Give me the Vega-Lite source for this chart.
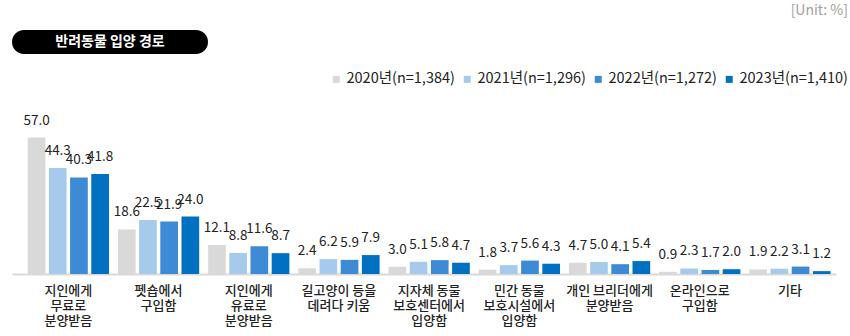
{
  "$schema": "https://vega.github.io/schema/vega-lite/v6.json",
  "padding": {"left": 12, "top": 4, "right": 0, "bottom": 0},
  "background": "white",
  "config": {
    "font": "Noto Sans CJK KR",
    "view": {"stroke": null},
    "concat": {"spacing": 38}
  },
  "title": {
    "text": "[Unit: %]",
    "anchor": "end",
    "frame": "bounds",
    "fontSize": 14,
    "fontWeight": "normal",
    "color": "#a0a0a0",
    "dx": 0,
    "offset": 12
  },
  "datasets": {
    "rows": [
      {"cat": "지인에게|무료로|분양받음", "year": "2020년(n=1,384)", "v": 57.0},
      {"cat": "지인에게|무료로|분양받음", "year": "2021년(n=1,296)", "v": 44.3},
      {"cat": "지인에게|무료로|분양받음", "year": "2022년(n=1,272)", "v": 40.3},
      {"cat": "지인에게|무료로|분양받음", "year": "2023년(n=1,410)", "v": 41.8},
      {"cat": "펫숍에서|구입함", "year": "2020년(n=1,384)", "v": 18.6},
      {"cat": "펫숍에서|구입함", "year": "2021년(n=1,296)", "v": 22.5},
      {"cat": "펫숍에서|구입함", "year": "2022년(n=1,272)", "v": 21.9},
      {"cat": "펫숍에서|구입함", "year": "2023년(n=1,410)", "v": 24.0},
      {"cat": "지인에게|유료로|분양받음", "year": "2020년(n=1,384)", "v": 12.1},
      {"cat": "지인에게|유료로|분양받음", "year": "2021년(n=1,296)", "v": 8.8},
      {"cat": "지인에게|유료로|분양받음", "year": "2022년(n=1,272)", "v": 11.6},
      {"cat": "지인에게|유료로|분양받음", "year": "2023년(n=1,410)", "v": 8.7},
      {"cat": "길고양이 등을|데려다 키움", "year": "2020년(n=1,384)", "v": 2.4},
      {"cat": "길고양이 등을|데려다 키움", "year": "2021년(n=1,296)", "v": 6.2},
      {"cat": "길고양이 등을|데려다 키움", "year": "2022년(n=1,272)", "v": 5.9},
      {"cat": "길고양이 등을|데려다 키움", "year": "2023년(n=1,410)", "v": 7.9},
      {"cat": "지자체 동물|보호센터에서|입양함", "year": "2020년(n=1,384)", "v": 3.0},
      {"cat": "지자체 동물|보호센터에서|입양함", "year": "2021년(n=1,296)", "v": 5.1},
      {"cat": "지자체 동물|보호센터에서|입양함", "year": "2022년(n=1,272)", "v": 5.8},
      {"cat": "지자체 동물|보호센터에서|입양함", "year": "2023년(n=1,410)", "v": 4.7},
      {"cat": "민간 동물|보호시설에서|입양함", "year": "2020년(n=1,384)", "v": 1.8},
      {"cat": "민간 동물|보호시설에서|입양함", "year": "2021년(n=1,296)", "v": 3.7},
      {"cat": "민간 동물|보호시설에서|입양함", "year": "2022년(n=1,272)", "v": 5.6},
      {"cat": "민간 동물|보호시설에서|입양함", "year": "2023년(n=1,410)", "v": 4.3},
      {"cat": "개인 브리더에게|분양받음", "year": "2020년(n=1,384)", "v": 4.7},
      {"cat": "개인 브리더에게|분양받음", "year": "2021년(n=1,296)", "v": 5.0},
      {"cat": "개인 브리더에게|분양받음", "year": "2022년(n=1,272)", "v": 4.1},
      {"cat": "개인 브리더에게|분양받음", "year": "2023년(n=1,410)", "v": 5.4},
      {"cat": "온라인으로|구입함", "year": "2020년(n=1,384)", "v": 0.9},
      {"cat": "온라인으로|구입함", "year": "2021년(n=1,296)", "v": 2.3},
      {"cat": "온라인으로|구입함", "year": "2022년(n=1,272)", "v": 1.7},
      {"cat": "온라인으로|구입함", "year": "2023년(n=1,410)", "v": 2.0},
      {"cat": "기타", "year": "2020년(n=1,384)", "v": 1.9},
      {"cat": "기타", "year": "2021년(n=1,296)", "v": 2.2},
      {"cat": "기타", "year": "2022년(n=1,272)", "v": 3.1},
      {"cat": "기타", "year": "2023년(n=1,410)", "v": 1.2}
    ],
    "head": [{"t": "반려동물 입양 경로"}]
  },
  "vconcat": [
    {
      "width": 196,
      "height": 24,
      "view": {"fill": "black", "cornerRadius": 12, "stroke": null},
      "data": {"name": "head"},
      "mark": {"type": "text", "color": "white", "fontSize": 14, "fontWeight": "bold", "baseline": "middle", "align": "center"},
      "encoding": {"text": {"field": "t"}}
    },
    {
      "width": 824,
      "height": 182,
      "data": {"name": "rows"},
      "encoding": {
        "x": {
          "field": "cat", "type": "nominal", "sort": null,
          "scale": {"paddingInner": 0.099, "paddingOuter": 0.117, "align": 0.744},
          "axis": {
            "title": null, "labelAngle": 0, "ticks": false,
            "domainColor": "#d9d9d9", "domainWidth": 2,
            "labelExpr": "split(datum.label, '|')",
            "labelFontSize": 13, "labelFontWeight": 500, "labelLineHeight": 15, "labelPadding": 10,
            "labelColor": "#222222", "labelLimit": 300, "labelBaseline": "top"
          }
        },
        "xOffset": {"field": "year", "type": "nominal", "sort": null, "scale": {"paddingInner": 0.165, "paddingOuter": 0}},
        "y": {
          "field": "v", "type": "quantitative",
          "scale": {"domain": [0, 76], "nice": false},
          "axis": null
        }
      },
      "layer": [
        {
          "mark": {"type": "bar"},
          "encoding": {
            "color": {
              "field": "year", "type": "nominal", "sort": null,
              "scale": {"range": ["#d9d9d9", "#a6caec", "#3d8bd4", "#0070c0"]},
              "legend": {
                "title": null, "orient": "none", "legendX": 317, "legendY": 42, "padding": 0,
                "direction": "horizontal", "columns": 4,
                "symbolType": "square", "symbolSize": 49, "symbolStrokeWidth": 0,
                "labelFontSize": 14.5, "labelColor": "#222222", "labelOffset": 3,
                "columnPadding": 5, "labelLimit": 200
              }
            }
          }
        },
        {
          "mark": {"type": "text", "fontSize": 13.5, "color": "#222222", "baseline": "alphabetic", "dy": -13},
          "encoding": {"text": {"field": "v", "type": "quantitative", "format": ".1f"}}
        }
      ]
    }
  ]
}
